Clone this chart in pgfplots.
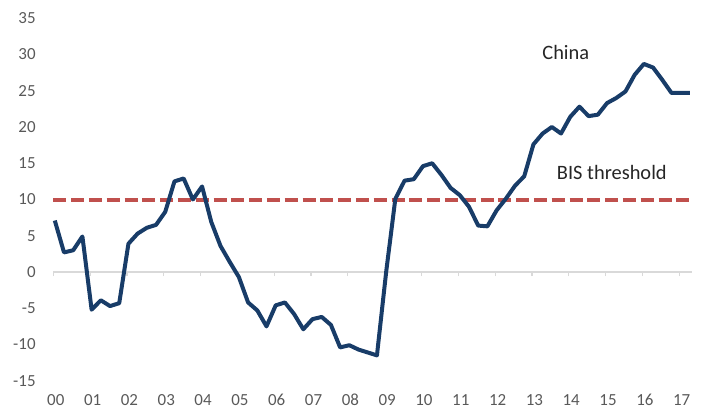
\documentclass[border=0pt]{standalone}
\usepackage{pgfplots}
\pgfplotsset{compat=1.18}
\usepackage{fontspec}
\setmainfont{Carlito}
\definecolor{chinablue}{RGB}{24,60,104}
\definecolor{bisred}{RGB}{192,80,77}
\definecolor{zerogray}{RGB}{217,217,217}
\definecolor{labgray}{RGB}{89,89,89}
\begin{document}
\begin{tikzpicture}
\path[use as bounding box] (0,0) rectangle (707bp,409bp);
\begin{axis}[
  at={(53.3bp,28.25bp)}, anchor=south west,
  scale only axis, width=638.4bp, height=362.5bp,
  xmin=0, xmax=17.34, ymin=-15, ymax=35,
  clip=false,
  axis x line*=middle,
  axis y line*=left,
  hide obscured x ticks=false,
  x axis line style={draw=zerogray, line width=1.5bp},
  y axis line style={draw=none},
  xtick={0,...,17},
  xticklabels={00,01,02,03,04,05,06,07,08,09,10,11,12,13,14,15,16,17},
  ytick={-15,-10,-5,0,5,10,15,20,25,30,35},
  yticklabels={-15,-10,-5,0,5,10,15,20,25,30,35},
  xtick align=outside,
  major tick length=4bp,
  xtick style={draw=zerogray, line width=1.2bp},
  ytick style={draw=none},
  xticklabel style={anchor=center, inner sep=0pt, yshift=-124bp, xshift=2.5bp, font=\fontsize{17}{20}\selectfont, text=labgray},
  yticklabel style={anchor=east, inner sep=0pt, xshift=-17.5bp, font=\fontsize{17}{20}\selectfont, text=labgray},
]
\addplot[bisred, line width=4bp, dash pattern=on 13bp off 4.8bp] coordinates {(0,10) (17.34,10)};
\addplot[chinablue, line width=4bp, line join=round, xshift=1.5bp] coordinates {
(0,7.1) (0.25,2.7) (0.5,3.0) (0.75,4.9)
(1,-5.2) (1.25,-3.9) (1.5,-4.7) (1.75,-4.3)
(2,3.9) (2.25,5.3) (2.5,6.1) (2.75,6.5)
(3,8.3) (3.25,12.5) (3.5,12.9) (3.75,10.0)
(4,11.8) (4.25,6.9) (4.5,3.6) (4.75,1.4)
(5,-0.7) (5.25,-4.2) (5.5,-5.3) (5.75,-7.5)
(6,-4.6) (6.25,-4.2) (6.5,-5.8) (6.75,-7.9)
(7,-6.5) (7.25,-6.2) (7.5,-7.3) (7.75,-10.4)
(8,-10.1) (8.25,-10.7) (8.5,-11.1) (8.75,-11.5)
(9,0.0) (9.25,10.1) (9.5,12.6) (9.75,12.8)
(10,14.6) (10.25,15.0) (10.5,13.4) (10.75,11.6)
(11,10.6) (11.25,9.0) (11.5,6.4) (11.75,6.3)
(12,8.5) (12.25,10.1) (12.5,11.9) (12.75,13.2)
(13,17.6) (13.25,19.1) (13.5,20.0) (13.75,19.1)
(14,21.4) (14.25,22.8) (14.5,21.5) (14.75,21.7)
(15,23.3) (15.25,24.0) (15.5,24.9) (15.75,27.2)
(16,28.7) (16.25,28.2) (16.5,26.5) (16.75,24.7)
(17,24.7) (17.25,24.7)
};
\node[font=\fontsize{20.5}{24}\selectfont, text=black!85, inner sep=0pt] at (axis cs:13.92,30.3) {China};
\node[font=\fontsize{20.5}{24}\selectfont, text=black!85, inner sep=0pt] at (axis cs:15.17,13.66) {BIS threshold};
\end{axis}
\end{tikzpicture}
\end{document}
